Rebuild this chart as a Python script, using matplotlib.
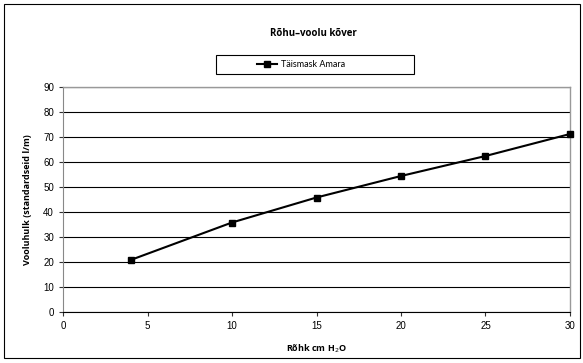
import matplotlib
matplotlib.use("Agg")
import matplotlib.pyplot as plt
from matplotlib.patches import Rectangle

pressure = [4, 10, 15, 20, 25, 30]
flow = [20.8, 35.8, 45.8, 54.4, 62.4, 71.2]
series_name = "Täismask Amara"
title = "Rõhu–voolu kõver"
xlabel = "Rõhk cm H$_2$O"
ylabel = "Vooluhulk (standardseid l/m)"

W, H = 583, 363
fig = plt.figure(figsize=(W/100, H/100), dpi=100)
fig.patches.append(Rectangle((4/W, 1-358/H), 576/W, 354/H, transform=fig.transFigure,
                             fill=False, edgecolor="black", linewidth=0.8))
# legend box
fig.patches.append(Rectangle((216/W, 1-74/H), 198/W, 19/H, transform=fig.transFigure,
                             fill=False, edgecolor="black", linewidth=0.8))
ax = fig.add_axes([63/W, 1-312/H, (570-63)/W, (312-87)/H])
ax.plot(pressure, flow, color="black", linewidth=1.5, marker="s", markersize=5,
        label=series_name, clip_on=False, zorder=3)
ax.set_xlim(0, 30)
ax.set_ylim(0, 90)
ax.set_xticks(range(0, 31, 5))
ax.set_yticks(range(0, 91, 10))
ax.yaxis.grid(True, color="black", linewidth=0.8)
ax.set_axisbelow(True)
for s in ["top", "right"]:
    ax.spines[s].set_color("#999999")
    ax.spines[s].set_linewidth(1.0)
ax.spines["left"].set_color("#888888")
ax.spines["bottom"].set_color("black")
ax.tick_params(labelsize=7, length=3, width=0.8, colors="#333333", labelcolor="black")
for lab in ax.get_xticklabels() + ax.get_yticklabels():
    lab.set_family("Liberation Sans")
ax.set_xlabel(xlabel, fontsize=6.5, fontweight="bold", family="Open Sans", labelpad=8)
ax.set_ylabel(ylabel, fontsize=6.5, fontweight="bold", family="Open Sans", labelpad=8)
fig.text(313/W, 1-34/H, title, ha="center", va="center",
         fontsize=7, fontweight="bold", family="Open Sans")
leg = fig.legend(loc="center", bbox_to_anchor=(301/W, 1-64.5/H),
                 frameon=False, handlelength=2.2, handletextpad=0.5,
                 prop={"family": "Lato", "size": 6.5})
fig.savefig("out.png", dpi=100)
